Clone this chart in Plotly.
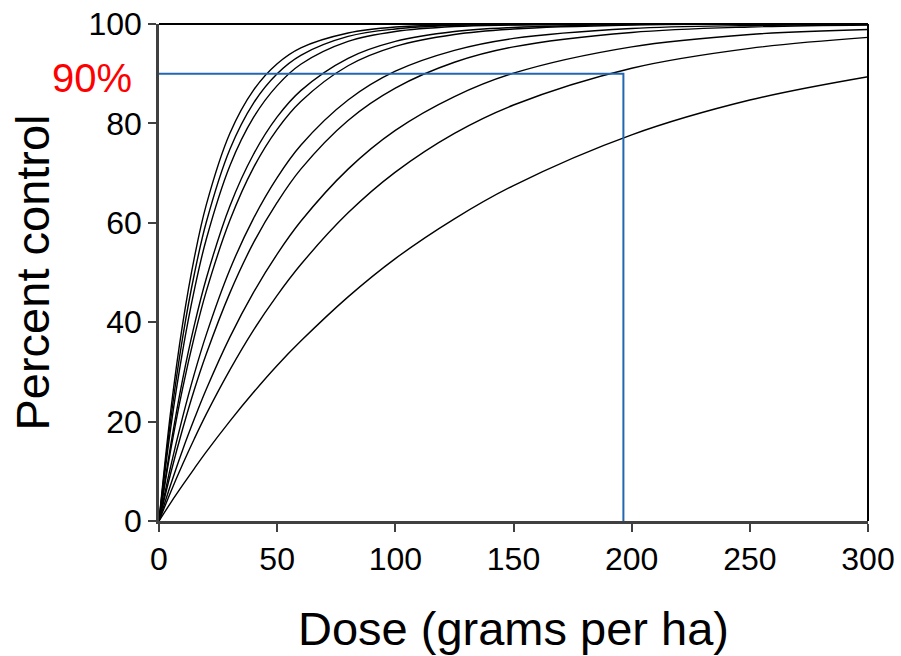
import plotly.graph_objects as go

dose = [0, 5, 10, 15, 20, 30, 40, 50, 60, 80, 100, 125, 150, 200, 250, 300]

curves = [
    [0, 22.3, 39.6, 53.1, 63.6, 78.0, 86.7, 92.0, 95.2, 98.2, 99.4, 99.8, 99.9, 100.0, 100.0, 100.0],
    [0, 20.6, 36.9, 49.8, 60.1, 74.8, 84.1, 90.0, 93.7, 97.5, 99.0, 99.7, 99.9, 100.0, 100.0, 100.0],
    [0, 18.9, 34.2, 46.6, 56.7, 71.5, 81.2, 87.6, 91.9, 96.5, 98.5, 99.5, 99.8, 100.0, 100.0, 100.0],
    [0, 15.4, 28.5, 39.5, 48.8, 63.4, 73.8, 81.3, 86.6, 93.1, 96.5, 98.5, 99.3, 99.9, 100.0, 100.0],
    [0, 14.4, 26.7, 37.2, 46.2, 60.5, 71.1, 78.8, 84.4, 91.6, 95.5, 97.9, 99.0, 99.8, 100.0, 100.0],
    [0, 11.1, 20.9, 29.7, 37.5, 50.6, 60.9, 69.1, 75.6, 84.7, 90.5, 94.7, 97.1, 99.1, 99.7, 99.9],
    [0, 9.7, 18.5, 26.5, 33.6, 45.9, 56.0, 64.1, 70.8, 80.6, 87.1, 92.3, 95.4, 98.3, 99.4, 99.8],
    [0, 7.4, 14.3, 20.6, 26.5, 37.0, 46.0, 53.7, 60.3, 70.8, 78.6, 85.4, 90.1, 95.4, 97.9, 98.9],
    [0, 5.9, 11.4, 16.6, 21.5, 30.4, 38.4, 45.4, 51.6, 62.0, 70.2, 78.0, 83.7, 91.1, 95.1, 97.3],
    [0, 3.7, 7.2, 10.6, 13.9, 20.1, 25.9, 31.3, 36.2, 45.1, 52.8, 60.8, 67.5, 77.7, 84.7, 89.4],
]

target_pct = 90
target_dose = 196.5
x_ticks = [0, 50, 100, 150, 200, 250, 300]
y_ticks = [0, 20, 40, 60, 80, 100]

FONT = "Liberation Sans, Arial, sans-serif"

fig = go.Figure()
for ys in curves:
    fig.add_trace(go.Scatter(
        x=dose, y=ys, mode="lines",
        line=dict(color="black", width=1.4, shape="spline", smoothing=1.0),
        showlegend=False, hoverinfo="skip", cliponaxis=True,
    ))

fig.add_trace(go.Scatter(
    x=[0, target_dose, target_dose], y=[target_pct, target_pct, 0],
    mode="lines", line=dict(color="#2168B0", width=2),
    showlegend=False, hoverinfo="skip", cliponaxis=False,
))

fig.update_layout(
    width=901, height=656,
    margin=dict(l=159, r=33, t=24, b=135, autoexpand=False),
    paper_bgcolor="white", plot_bgcolor="white",
    font=dict(family=FONT, color="black"),
    xaxis=dict(
        range=[0, 300], tickvals=x_ticks, ticktext=[str(v) for v in x_ticks],
        showgrid=False, zeroline=False, showline=True, linecolor="#404040", linewidth=2.5,
        ticks="outside", ticklen=8, tickwidth=2, tickcolor="#404040",
        tickfont=dict(size=32, family=FONT, color="black"), automargin=False,
        title=dict(text="Dose (grams per ha)", font=dict(size=47, family=FONT, color="black"), standoff=36),
    ),
    yaxis=dict(
        range=[0, 100], tickvals=y_ticks, ticktext=[str(v) for v in y_ticks],
        showgrid=False, zeroline=False, showline=True, linecolor="#404040", linewidth=2.5,
        ticks="outside", ticklen=8, tickwidth=2, tickcolor="#404040",
        tickfont=dict(size=32, family=FONT, color="black"), automargin=False,
        title=dict(text="Percent control", font=dict(size=47, family=FONT, color="black"), standoff=25),
    ),
    shapes=[
        dict(type="line", xref="paper", yref="paper", x0=0, x1=1, y0=1, y1=1,
             line=dict(color="black", width=2)),
        dict(type="line", xref="paper", yref="paper", x0=1, x1=1, y0=0, y1=1,
             line=dict(color="black", width=2)),
    ],
    annotations=[
        dict(text="90%", xref="paper", yref="y", x=-0.035, y=target_pct - 0.8,
             xanchor="right", yanchor="middle", showarrow=False,
             font=dict(size=40, family=FONT, color="red")),
    ],
)

fig.write_html("out.html")
